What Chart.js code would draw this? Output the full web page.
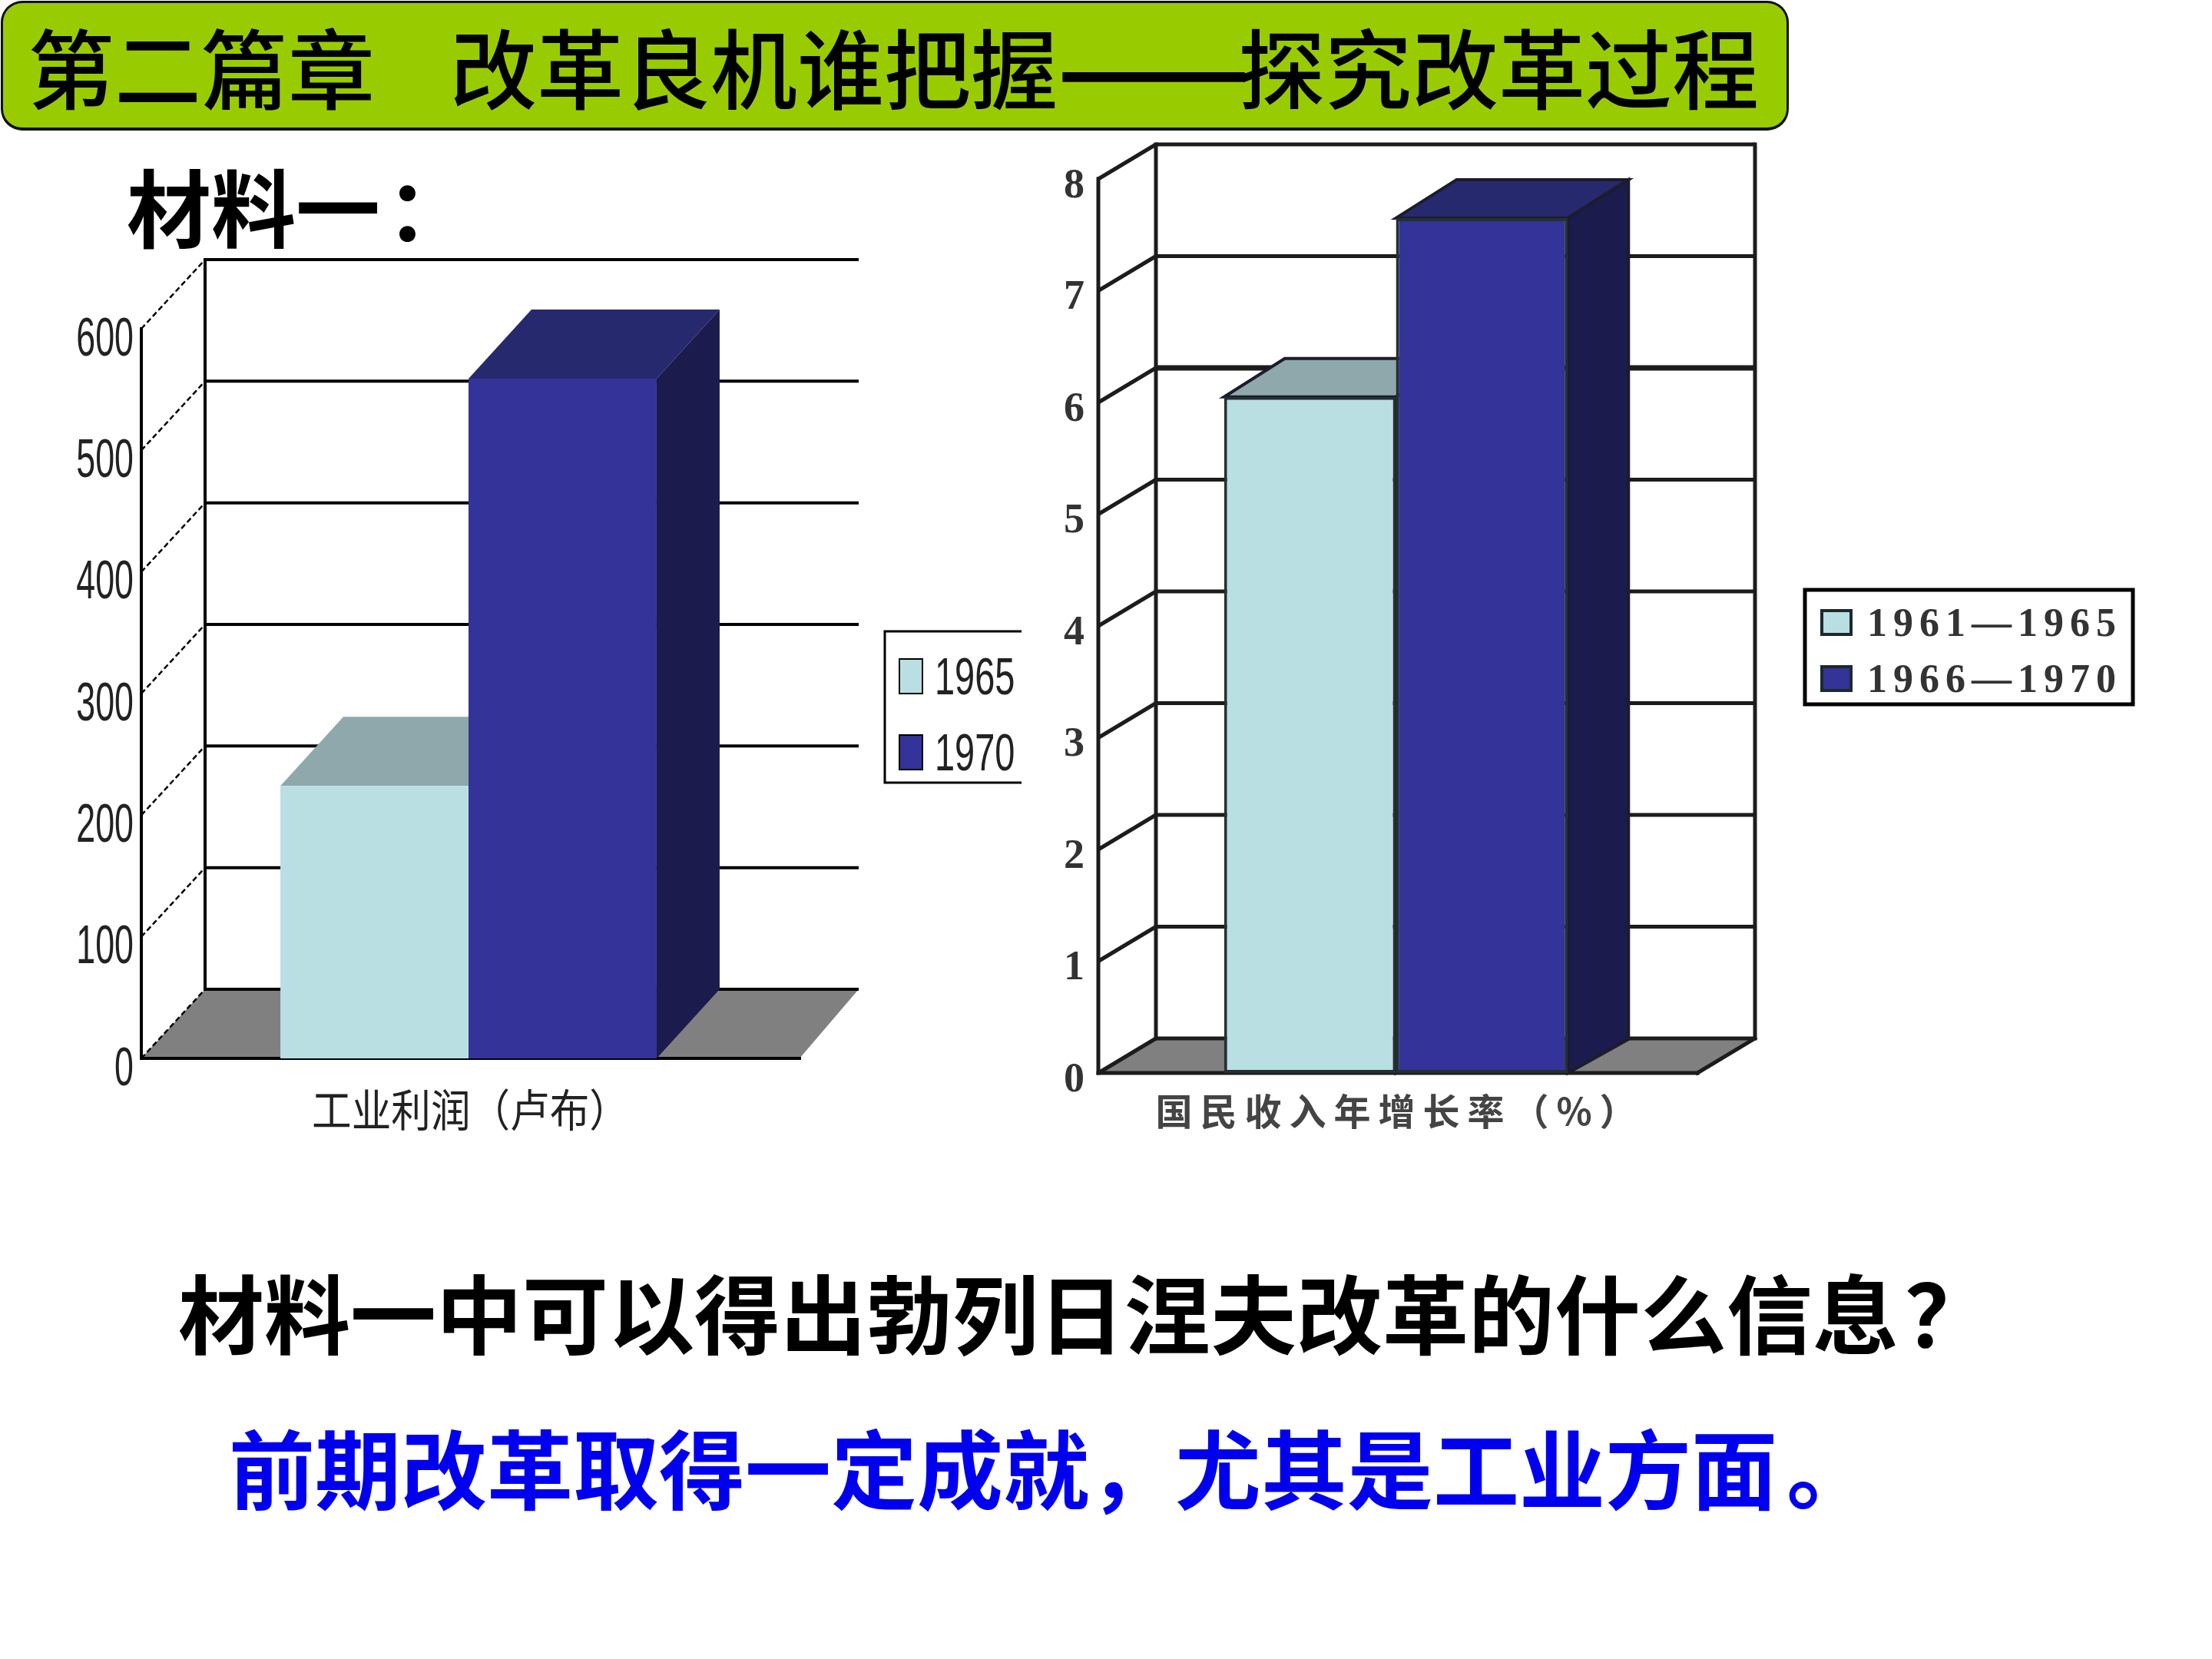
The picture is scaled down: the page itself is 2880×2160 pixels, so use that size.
<!DOCTYPE html>
<html lang="zh-CN">
<head>
<meta charset="utf-8">
<title>探究改革过程</title>
<script src="https://cdn.jsdelivr.net/npm/chart.js@4/dist/chart.umd.min.js"></script>
<style>
html,body{margin:0;padding:0;background:#fff;width:2880px;height:2160px;overflow:hidden;font-family:"Noto Sans CJK SC",sans-serif}
.abs{position:absolute;white-space:pre;line-height:1}
#banner{left:1px;top:1px;width:2322px;height:162px;background:#99CC00;border:3px solid #111;border-bottom-width:4px;border-radius:28px}
.head{top:28px;font-size:113px;font-weight:500;color:#000}
#dash{left:1376px;top:28px;font-size:113px;font-weight:900;color:#000;transform-origin:0 50%;transform:scaleX(1.3)}
#sub{left:165px;top:211px;font-size:110px;font-weight:700;color:#000}
#question{left:232px;top:1650px;font-size:112px;font-weight:700;color:#000}
#answer{left:298px;top:1852px;font-size:112px;font-weight:700;color:#0000EE}
canvas{position:absolute}
</style>
</head>
<body>
<div class="abs" id="banner"></div>
<div class="abs head" style="left:36px">第二篇章</div>
<div class="abs head" style="left:586px">改革良机谁把握</div>
<div class="abs" id="dash">——</div>
<div class="abs head" style="left:1612px">探究改革过程</div>
<div class="abs" id="sub">材料一<span style="position:relative;left:8px">：</span></div>
<div class="abs" id="question">材料一中可以得出勃列日涅夫改革的什么信息<span style="position:relative;left:8px">？</span></div>
<div class="abs" id="answer">前期改革取得一定成就，尤其是工业方面<span style="position:relative;left:12px">。</span></div>
<canvas id="profit" width="1360" height="1500" style="left:0;top:0;width:1360px;height:1500px"></canvas>
<canvas id="growth" width="1460" height="1500" style="left:1360px;top:0;width:1460px;height:1500px"></canvas>
<script>
// ---- data ----
const profitCategories = ['工业利润（卢布）'];
const profitSeriesNames = ['1965', '1970'];
const profit1965 = [224];
const profit1970 = [559];
const growthCategories = ['国民收入年增长率（%）'];
const growthSeriesNames = ['1961—1965', '1966—1970'];
const growth6165 = [6.05];
const growth6670 = [7.65];

// ---- colours ----
const LIGHT = '#B9DFE2', BLUE = '#333399';
const TOPS = ['#8FA8AB', '#27296F'];
const SIDES = ['#8FA8AB', '#1B1B4D'];

function poly(ctx, pts, fill, stroke, lw) {
  ctx.beginPath();
  pts.forEach((p, i) => i ? ctx.lineTo(p[0], p[1]) : ctx.moveTo(p[0], p[1]));
  ctx.closePath();
  if (fill) { ctx.fillStyle = fill; ctx.fill(); }
  if (stroke) { ctx.strokeStyle = stroke; ctx.lineWidth = lw; ctx.stroke(); }
}
function line(ctx, x1, y1, x2, y2) {
  ctx.beginPath(); ctx.moveTo(x1, y1); ctx.lineTo(x2, y2); ctx.stroke();
}

// Draws the pseudo-3D box (floor, walls, gridlines, bar tops and sides) from the chart's own scales
const depthPlugin = {
  id: 'depth',
  afterLayout(chart, args, o) {
    // stretch / squeeze the library's axis labels to match the reference's lettering
    [['y', o.yLabel], ['x', o.xLabel]].forEach(([id, t]) => {
      const s = chart.scales[id];
      if (s._wrapped) return;
      s._wrapped = true;
      const orig = s.drawLabels;
      s.drawLabels = function (area) {
        const c = chart.ctx;
        c.save();
        if (t.spacing) c.letterSpacing = t.spacing;
        c.translate(t.px + t.tx, t.py + t.ty);
        c.scale(t.sx, t.sy);
        c.translate(-t.px, -t.py);
        orig.call(this, area);
        c.restore();
      };
    });
  },
  beforeDatasetsDraw(chart, args, o) {
    const c = chart.ctx, a = chart.chartArea, y = chart.scales.y;
    const L = a.left, R = a.right + o.rightExtra, B = a.bottom, T = a.top, dx = o.dx, dy = o.dy;
    const RB = R + dx - o.backInset;
    c.save();
    // floor
    poly(c, [[L, B], [R, B], [RB, B + dy], [L + dx, B + dy]], '#808080');
    c.strokeStyle = o.lineColor;
    c.lineWidth = o.lw;
    // grid lines on the back wall and diagonal ticks on the side wall
    c.lineCap = 'butt';
    y.ticks.forEach(t => {
      const py = y.getPixelForValue(t.value);
      c.lineWidth = o.thick.includes(t.value) ? o.lw + 2 : o.lw;
      line(c, L + dx, py + dy, RB, py + dy);
      c.lineWidth = o.diagWidth;
      c.setLineDash(o.diagDash);
      line(c, L, py, L + dx, py + dy);
      c.setLineDash([]);
    });
    c.lineCap = 'square';
    c.lineWidth = o.lw;
    line(c, L + dx, T + dy, L + dx, B + dy);
    line(c, L, T, L, B);
    line(c, L, B, R, B);
    if (o.rightWall) {
      line(c, RB, T + dy, RB, B + dy);
      line(c, R, B, RB, B + dy);
    }
    // bar tops and sides
    chart.data.datasets.forEach((d, i) => {
      chart.getDatasetMeta(i).data.forEach(b => {
        const p = b.getProps(['x', 'y', 'base', 'width'], true);
        const l = p.x - p.width / 2, r = p.x + p.width / 2;
        const bx = o.barDx, ty = o.barDyTop, by = o.barDyBottom;
        poly(c, [[l, p.y], [r, p.y], [r + bx, p.y + ty], [l + bx, p.y + ty]], TOPS[i], o.barLine, o.barLineWidth);
        poly(c, [[r, p.y], [r + bx, p.y + ty], [r + bx, p.base + by], [r, p.base]], SIDES[i], o.barLine, o.barLineWidth);
      });
    });
    c.restore();
  },
  afterDraw(chart, args, o) {
    const c = chart.ctx, g = o.legend;
    c.save();
    c.strokeStyle = '#000';
    c.lineWidth = g.border;
    c.beginPath();
    c.moveTo(g.x2, g.y1); c.lineTo(g.x1, g.y1); c.lineTo(g.x1, g.y2); c.lineTo(g.x2, g.y2);
    if (g.closed) c.closePath();
    c.stroke();
    chart.data.datasets.forEach((d, i) => {
      const sy = g.rows[i];
      c.fillStyle = d.backgroundColor;
      c.fillRect(g.sx, sy, g.sw, g.sh);
      c.strokeStyle = g.swatchLine;
      c.lineWidth = g.swatchWidth;
      c.strokeRect(g.sx, sy, g.sw, g.sh);
      c.save();
      c.translate(g.tx, sy + g.sh / 2);
      c.scale(g.tsx, 1);
      c.font = g.font;
      c.letterSpacing = g.spacing;
      c.fillStyle = g.color;
      c.textAlign = 'left';
      c.textBaseline = 'middle';
      c.fillText(d.label, 0, g.tdy);
      c.restore();
    });
    c.restore();
  }
};

function makeChart(id, cats, names, a, b, cfg) {
  return new Chart(document.getElementById(id), {
    type: 'bar',
    plugins: [depthPlugin],
    data: {
      labels: cats,
      datasets: [
        { label: names[0], data: a, backgroundColor: LIGHT },
        { label: names[1], data: b, backgroundColor: BLUE }
      ]
    },
    options: {
      responsive: false,
      animation: false,
      layout: { padding: cfg.padding },
      datasets: { bar: { categoryPercentage: cfg.catPct, barPercentage: 1, borderWidth: cfg.barBorder, borderColor: cfg.barLine, borderSkipped: false } },
      plugins: {
        legend: { display: false },
        tooltip: { enabled: false },
        depth: cfg.depth
      },
      scales: {
        x: {
          grid: { display: false, drawTicks: false },
          border: { display: false },
          ticks: { font: cfg.xFont, color: cfg.xColor, padding: cfg.xPad, maxRotation: 0, autoSkip: false },
          afterFit(s) { s.height = cfg.xHeight; }
        },
        y: {
          min: 0, max: cfg.max,
          grid: { display: false, drawTicks: false },
          border: { display: false },
          ticks: { stepSize: cfg.step, font: cfg.yFont, color: cfg.yColor, padding: cfg.yPad },
          afterFit(s) { s.width = cfg.yWidth; }
        }
      }
    }
  });
}

makeChart('profit', profitCategories, profitSeriesNames, profit1965, profit1970, {
  padding: { left: 0, top: 428, right: 324, bottom: 0 },
  yWidth: 184, xHeight: 122, catPct: 0.575, barBorder: 0, barLine: 'rgba(0,0,0,0)',
  max: 600, step: 100,
  yFont: { family: 'Liberation Sans', size: 71 }, yColor: '#222', yPad: 10,
  xFont: { family: 'Noto Sans CJK SC', size: 48 }, xColor: '#222', xPad: 34,
  depth: {
    dx: 83, dy: -90, rightExtra: 5, backInset: 6, lineColor: '#000', lw: 4,
    diagWidth: 2.5, diagDash: [7, 4], thick: [], rightWall: false,
    barDx: 82, barDyTop: -90, barDyBottom: -90, barLine: null, barLineWidth: 0,
    yLabel: { px: 174, py: 0, tx: 0, ty: 15, sx: 0.63, sy: 1 },
    xLabel: { px: 610, py: 1447, tx: 2.5, ty: 6, sx: 1.075, sy: 1.2 },
    legend: {
      x1: 1152, y1: 822, x2: 1330, y2: 1019, closed: false, border: 3,
      sx: 1171, sw: 30, sh: 45, rows: [858, 957], swatchLine: '#000', swatchWidth: 2,
      tx: 1217, tsx: 0.69, tdy: 5, font: '68px "Liberation Sans"', spacing: '0px', color: '#222'
    }
  }
});

makeChart('growth', growthCategories, growthSeriesNames, growth6165, growth6670, {
  padding: { left: 0, top: 233, right: 615, bottom: 0 },
  yWidth: 70, xHeight: 103, catPct: 0.5775, barBorder: 4, barLine: '#243033',
  max: 8, step: 1,
  yFont: { family: 'Liberation Serif', size: 54, weight: 'bold' }, yColor: '#333', yPad: 18,
  xFont: { family: 'Noto Sans CJK SC', size: 48, weight: 'bold' }, xColor: '#444', xPad: 24,
  depth: {
    dx: 75, dy: -45, rightExtra: 5, backInset: 0, lineColor: '#1c1c1c', lw: 5,
    diagWidth: 5, diagDash: [], thick: [6], rightWall: true,
    barDx: 79, barDyTop: -50, barDyBottom: -44, barLine: '#1c1c2c', barLineWidth: 4,
    yLabel: { px: 52, py: 0, tx: 0, ty: 10, sx: 1, sy: 1 },
    xLabel: { px: 445, py: 1447, tx: 5, ty: -3, sx: 1, sy: 1, spacing: '10px' },
    legend: {
      x1: 990, y1: 768, x2: 1417, y2: 917, closed: true, border: 5,
      sx: 1012, sw: 38, sh: 31, rows: [795, 868], swatchLine: '#1c2a2c', swatchWidth: 4,
      tx: 1071, tsx: 1, tdy: 4, font: 'bold 52px "Liberation Serif"', spacing: '8px', color: '#333'
    }
  }
});
</script>
</body>
</html>
